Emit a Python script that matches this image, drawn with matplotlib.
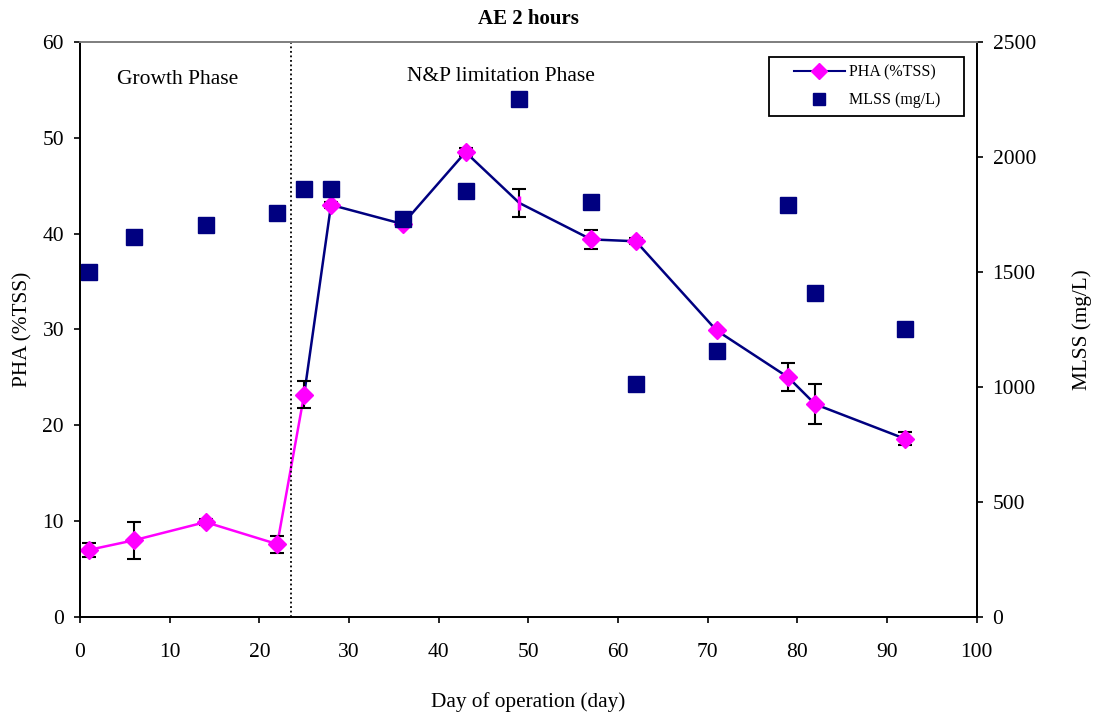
import matplotlib.pyplot as plt
from matplotlib.lines import Line2D
from matplotlib.patches import Rectangle

plt.rcParams['font.family'] = ['Liberation Serif', 'DejaVu Serif']

# PHA (%TSS) -- growth phase drawn in magenta, limitation phase in navy
days = [1, 6, 14, 22, 25, 28, 36, 43, 49, 57, 62, 71, 79, 82, 92]
pha = [7.0, 8.0, 9.9, 7.6, 23.2, 43.0, 41.0, 48.5, 43.2, 39.4, 39.2, 29.9, 25.0, 22.2, 18.6]
pha_err = [0.75, 1.9, 0.3, 0.9, 1.4, 0.3, 0.0, 0.4, 1.45, 1.0, 0.3, 0.0, 1.45, 2.1, 0.7]

# MLSS (mg/L)
mlss = [1500, 1650, 1705, 1757, 1860, 1860, 1730, 1852, 2250, 1805, 1012, 1155, 1790, 1408, 1250]

split = 4  # index of day 25, where the line turns navy

fig = plt.figure(figsize=(10.96, 7.17), dpi=100)
ax = fig.add_axes([0.073, 0.1395, 0.818, 0.802])
ax2 = ax.twinx()

ax.plot(days[:split + 1], pha[:split + 1], color='#ff00ff', lw=1.8, zorder=2)
ax.plot(days[split:], pha[split:], color='#000080', lw=1.8, zorder=2)
ax.errorbar(days, pha, yerr=pha_err, fmt='none', ecolor='black', elinewidth=1.5,
            capsize=5, capthick=1.5, zorder=3)
ax.plot([d for d in days if d != 49], [p for d, p in zip(days, pha) if d != 49],
        'D', color='#ff00ff', ms=9.5, mec='#ff00ff', zorder=4, ls='none')
ax.plot([49], [pha[days.index(49)]], '|', color='#ff00ff', ms=10, mew=2.5, zorder=4)

ax2.plot(days, mlss, 's', color='#000080', ms=11.5, ls='none')

ax.axvline(23.5, color='black', ls=(0, (1, 1.5)), lw=1.3)

ax.set_xlim(0, 100)
ax.set_ylim(0, 60)
ax2.set_ylim(0, 2500)
ax.set_xticks(range(0, 101, 10))
ax.set_yticks(range(0, 61, 10))
ax2.set_yticks(range(0, 2501, 500))

for a in (ax, ax2):
    a.tick_params(direction='out', length=4.5, width=1.2, labelsize=15.5)
    for s in a.spines.values():
        s.set_linewidth(1.3)
    a.spines['top'].set_color('#808080')
ax.tick_params(axis='x', pad=14)
ax.tick_params(axis='y', pad=7)
ax2.tick_params(axis='y', pad=7)

ax.set_xlabel('Day of operation (day)', fontsize=15.3, labelpad=22)
ax.set_ylabel('PHA (%TSS)', fontsize=15.3, labelpad=7)
ax2.set_ylabel('MLSS (mg/L)', fontsize=15.3, labelpad=26)
ax.set_title('AE 2 hours', fontsize=15, fontweight='bold', pad=13)

ax.text(10.9, 56.1, 'Growth Phase', fontsize=15.5, ha='center', va='center')
ax.text(46.9, 56.4, 'N&P limitation Phase', fontsize=15.5, ha='center', va='center')

# legend box: wide horizontal padding, drawn as its own frame
ax2.add_patch(Rectangle((0.769, 0.871), 0.2165, 0.103, transform=ax2.transAxes,
                        facecolor='white', edgecolor='black', lw=1.3, zorder=5))
handles = [Line2D([], [], color='#000080', lw=1.5, marker='D', mfc='#ff00ff', mec='#ff00ff', ms=8),
           Line2D([], [], color='#000080', ls='none', marker='s', ms=9)]
lgd = ax2.legend(handles, ['PHA (%TSS)', 'MLSS (mg/L)'], loc='center',
                 bbox_to_anchor=(0.878, 0.9225), fontsize=11.5, frameon=False,
                 labelspacing=0.75, handlelength=3.2, handletextpad=0.3, borderpad=0)
lgd.set_zorder(6)

fig.savefig('out.png', dpi=100)
